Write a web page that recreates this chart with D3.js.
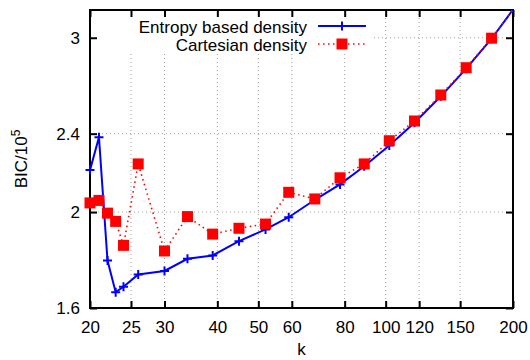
<!DOCTYPE html>
<html><head><meta charset="utf-8">
<script src="https://cdn.jsdelivr.net/npm/d3@7"></script>
<style>body{margin:0;background:#fff}svg{display:block}text{font-family:"Liberation Sans",Arial,Helvetica,sans-serif}</style>
</head><body><svg id="c" width="530" height="360"></svg>
<script>
const kValues = [20,21,22,23,24,26,30,34,39,45,52,59,68,78,89,102,117,135,155,178,204];
const entropyBIC = [2.205,2.38,1.787,1.66,1.681,1.73,1.744,1.794,1.808,1.869,1.921,1.976,2.058,2.133,2.225,2.335,2.462,2.618,2.792,2.993,3.24];
const cartesianBIC = [2.043,2.055,1.995,1.957,1.851,2.237,1.827,1.979,1.900,1.926,1.945,2.094,2.062,2.166,2.237,2.361,2.472,2.626,2.798,2.997,3.24];
const xTicks = [20,25,30,40,50,60,80,100,120,150,200];
const yTicks = [1.6,2,2.4,3];
const seriesNames = ["Entropy based density","Cartesian density"];

const svg = d3.select("#c");
const L=90,R=513,T=10,B=308;
const x = d3.scaleLog().domain([20,200]).range([L,R]);
const y = d3.scaleLog().domain([1.6,3.2]).range([B,T]);
const font = 17;

svg.append("defs").append("clipPath").attr("id","pc")
  .append("rect").attr("x",L).attr("y",T).attr("width",R-L).attr("height",B-T);

// grid
const g = svg.append("g");
g.selectAll("line.vg").data(xTicks.filter(d=>d>20&&d<200)).join("line")
  .attr("x1",d=>x(d)).attr("x2",d=>x(d)).attr("y1",T).attr("y2",B)
  .attr("stroke","#a0a0a0").attr("stroke-width",1).attr("stroke-dasharray","1,3");
g.selectAll("line.hg").data(yTicks.filter(d=>d>1.6)).join("line")
  .attr("y1",d=>y(d)).attr("y2",d=>y(d)).attr("x1",L).attr("x2",R)
  .attr("stroke","#a0a0a0").attr("stroke-width",1).attr("stroke-dasharray","1,3");

// legend opaque box
svg.append("rect").attr("x",L+1).attr("y",T+1).attr("width",373-L).attr("height",42).attr("fill","#fff");

// axes with inward ticks
const tickLen=7;
const axB = d3.axisBottom(x).tickValues(xTicks).tickFormat(d3.format("d")).tickSizeInner(-tickLen).tickSizeOuter(0).tickPadding(tickLen+6);
const axT = d3.axisTop(x).tickValues(xTicks).tickFormat("").tickSizeInner(-tickLen).tickSizeOuter(0);
const axL = d3.axisLeft(y).tickValues(yTicks).tickFormat(d=>d3.format("")(d)).tickSizeInner(-tickLen).tickSizeOuter(0).tickPadding(tickLen+3);
const axR = d3.axisRight(y).tickValues(yTicks).tickFormat("").tickSizeInner(-tickLen).tickSizeOuter(0);
function style(sel){
  sel.select(".domain").remove();
  sel.selectAll(".tick line").attr("stroke","#000").attr("stroke-width",2);
  sel.selectAll(".tick text").attr("font-size",font).attr("fill","#000").attr("font-family","Liberation Sans, Arial, sans-serif");
}
svg.append("g").attr("transform",`translate(0,${B})`).call(axB).call(style);
svg.append("g").attr("transform",`translate(0,${T})`).call(axT).call(style);
svg.append("g").attr("transform",`translate(${L},0)`).call(axL).call(style);
svg.append("g").attr("transform",`translate(${R},0)`).call(axR).call(style);

// frame
svg.append("rect").attr("x",L).attr("y",T).attr("width",R-L).attr("height",B-T)
  .attr("fill","none").attr("stroke","#000").attr("stroke-width",2);

const line = d3.line().x(d=>x(d[0])).y(d=>y(d[1]));
const inDom = d=>d[0]>=20&&d[0]<=200&&d[1]>=1.6&&d[1]<=3.2;
const ent = kValues.map((k,i)=>[k,entropyBIC[i]]);
const car = kValues.map((k,i)=>[k,cartesianBIC[i]]);

function plus(sel,s){ return sel.attr("d",d=>`M${x(d[0])-s},${y(d[1])}h${2*s}M${x(d[0])},${y(d[1])-s}v${2*s}`); }

// entropy
svg.append("path").datum(ent).attr("clip-path","url(#pc)").attr("d",line)
  .attr("fill","none").attr("stroke","#0000ff").attr("stroke-width",2);
svg.append("g").selectAll("path").data(ent.filter(inDom)).join("path")
  .call(plus,4.5).attr("stroke","#0000ff").attr("stroke-width",2).attr("fill","none");

// cartesian
svg.append("path").datum(car).attr("clip-path","url(#pc)").attr("d",line)
  .attr("fill","none").attr("stroke","#ff0000").attr("stroke-width",1.6).attr("stroke-dasharray","1.5,3.5");
const sq=11;
svg.append("g").selectAll("rect").data(car.filter(inDom)).join("rect")
  .attr("x",d=>x(d[0])-sq/2).attr("y",d=>y(d[1])-sq/2).attr("width",sq).attr("height",sq)
  .attr("fill","#ff0000");

// legend
const lg = svg.append("g");
[[33,26],[51,44]].forEach(([bl,ly],i)=>{
  lg.append("text").attr("x",307).attr("y",bl).attr("text-anchor","end").attr("font-size",font).text(seriesNames[i]);
});
lg.append("line").attr("x1",318).attr("x2",366).attr("y1",26).attr("y2",26).attr("stroke","#0000ff").attr("stroke-width",2);
lg.append("path").attr("d","M337.5,26h9M342,21.5v9").attr("stroke","#0000ff").attr("stroke-width",2);
lg.append("line").attr("x1",318).attr("x2",366).attr("y1",44).attr("y2",44).attr("stroke","#ff0000").attr("stroke-width",1.6).attr("stroke-dasharray","1.5,3.5");
lg.append("rect").attr("x",342-sq/2).attr("y",44-sq/2).attr("width",sq).attr("height",sq).attr("fill","#ff0000");

// axis titles
svg.append("text").attr("x",(L+R)/2).attr("y",355).attr("text-anchor","middle").attr("font-size",font).text("k");
const yt = svg.append("text").attr("transform","translate(27,159) rotate(-90)").attr("text-anchor","middle").attr("font-size",font);
yt.append("tspan").text("BIC/10");
yt.append("tspan").attr("font-size",12).attr("dy",-7).text("5");
</script></body></html>
